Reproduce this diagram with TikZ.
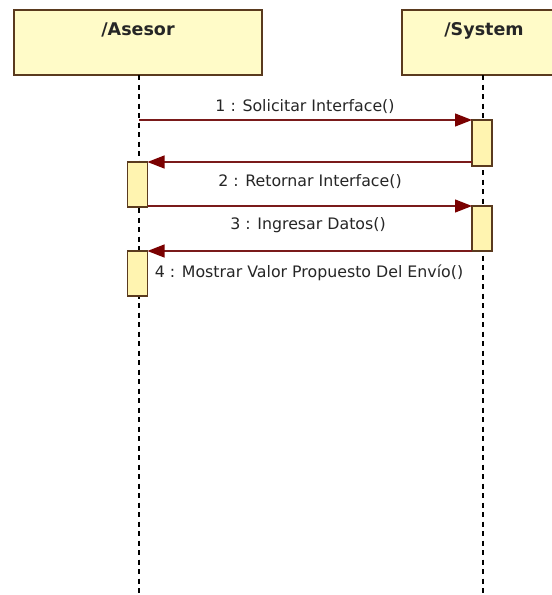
\documentclass[tikz,border=0pt]{standalone}
\usepackage{fontspec}
\setmainfont{DejaVu Sans}
\usetikzlibrary{arrows.meta,calc}
\definecolor{boxfill}{HTML}{FFFBC8}
\definecolor{actfill}{HTML}{FFF4B0}
\definecolor{boxline}{HTML}{5A3A1E}
\definecolor{msgline}{HTML}{7A1A1A}
\definecolor{headcol}{HTML}{7A0000}
\tikzset{
  lifebox/.style={draw=boxline,fill=boxfill,line width=1.3pt,inner sep=0pt,outer sep=0pt,minimum height=65pt},
  titletext/.style={font=\bfseries\fontsize{17.5}{19}\selectfont,anchor=base,inner sep=0pt,text=black!85},
  actbox/.style={draw=boxline,fill=actfill,line width=1.3pt,inner sep=0pt,outer sep=0pt,minimum width=20pt},
  lifeline/.style={draw=black,line width=1.9pt,dash pattern=on 5pt off 4.5pt},
  msg/.style={draw=msgline,line width=1.2pt,-{Triangle[length=17pt,width=13pt,fill=headcol,color=headcol]}},
  msgtext/.style={font=\fontsize{15.8}{17}\selectfont,anchor=base,inner sep=0pt,text=black!85}
}
\begin{document}
\begin{tikzpicture}[x=1pt,y=-1pt]
\useasboundingbox (0,0) rectangle (552,595);
\clip (0,0) rectangle (552,595);
\fill[white] (0,0) rectangle (552,595);
% lifeline heads
\node[lifebox,minimum width=248pt] (asesor) at (138,42.5) {};
\node[lifebox,minimum width=164pt] (system) at (484,42.5) {};
\node[titletext] (asesorT) at (138,35) {/Asesor};
\node[titletext] (systemT) at (484,35) {/System};
% lifelines
\coordinate (asesorEnd) at (139,596);
\coordinate (systemEnd) at (483,596);
\draw[lifeline] (asesor.south -| asesorEnd) -- (asesorEnd);
\draw[lifeline] (system.south -| systemEnd) -- (systemEnd);
% activations
\node[actbox,minimum height=46pt] (act1) at (482,143) {};
\node[actbox,minimum height=45pt] (act2) at (137.5,184.5) {};
\node[actbox,minimum height=45pt] (act3) at (482,228.5) {};
\node[actbox,minimum height=45pt] (act4) at (137.5,273.5) {};
% messages
\coordinate (m1start) at (asesorEnd |- act1.north);
\draw[msg] (m1start) -- (act1.north west);
\draw[msg] (act1.west |- act2.north) -- (act2.north east);
\draw[msg] (act2.south east |- act3.north) -- (act3.north west);
\draw[msg] (act3.south west) -- (act3.south west -| act4.east);
% labels
\node[msgtext] (l1) at (305,111.5) {1 : Solicitar Interface()};
\node[msgtext] (l2) at (310,186) {2 : Retornar Interface()};
\node[msgtext] (l3) at (308,229) {3 : Ingresar Datos()};
\node[msgtext] (l4) at (309,277) {4 : Mostrar Valor Propuesto Del Envío()};
\end{tikzpicture}
\end{document}
